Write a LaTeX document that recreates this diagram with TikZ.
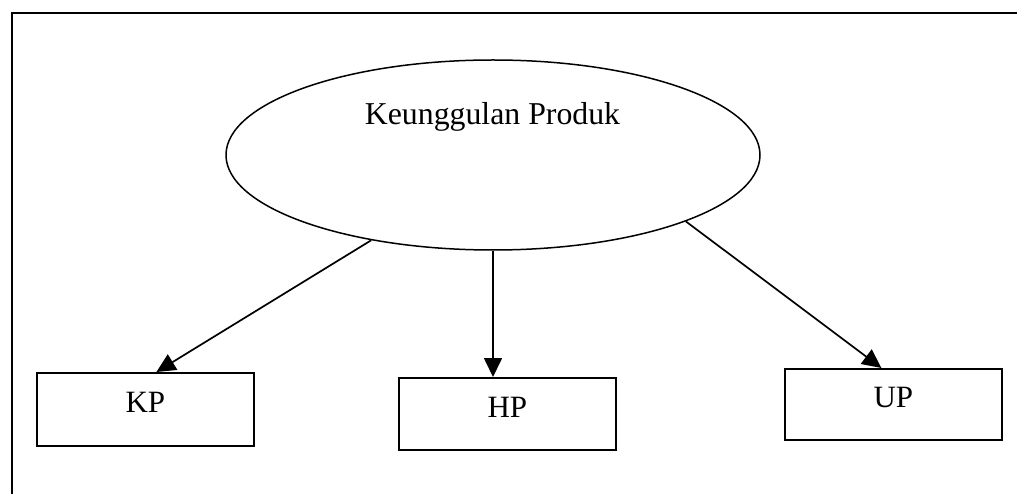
\documentclass[tikz,border=0pt]{standalone}
\usepackage{fontspec}
\setmainfont{Liberation Serif}
\usetikzlibrary{shapes.geometric,arrows.meta,calc}

\tikzset{
  frameline/.style={line width=1.8pt},
  construct/.style={ellipse, draw, line width=1.5pt, minimum width=534pt,
    minimum height=190pt, inner sep=0pt},
  caption/.style={font=\fontsize{31.8pt}{36pt}\selectfont, inner sep=0pt, anchor=base},
  indicator/.style={rectangle, draw, line width=1.8pt, anchor=north west,
    minimum width=217pt, inner xsep=0pt, text height=20pt, text depth=13pt,
    font=\fontsize{31pt}{36pt}\selectfont},
  link/.style={line width=1.7pt, -{Triangle[length=19pt,width=18pt]}}
}

\begin{document}
\begin{tikzpicture}[x=1pt, y=-1pt]
  \useasboundingbox (0,0) rectangle (1017,494);

  % open frame: top and left edges
  \draw[frameline] (12,494) -- (12,13) -- (1017,13);

  % latent construct
  \node[construct] (ku) at (493,155) {};
  \node[caption] (kutitle) at (492.5,125) {Keunggulan Produk};

  % indicators
  \node[indicator, inner ysep=20pt]   (kp) at (36,372)  {KP};
  \node[indicator, inner ysep=19.5pt] (hp) at (398,377) {HP};
  \node[indicator, inner ysep=19pt]   (up) at (784,368) {UP};

  % loadings
  \draw[link] (ku.-145) -- ($(kp.north)+(11,0)$);
  \draw[link] (ku.south) -- (ku.south |- hp.north);
  \draw[link] (ku.-19) -- ($(up.north)+(-12,0)$);
\end{tikzpicture}
\end{document}
